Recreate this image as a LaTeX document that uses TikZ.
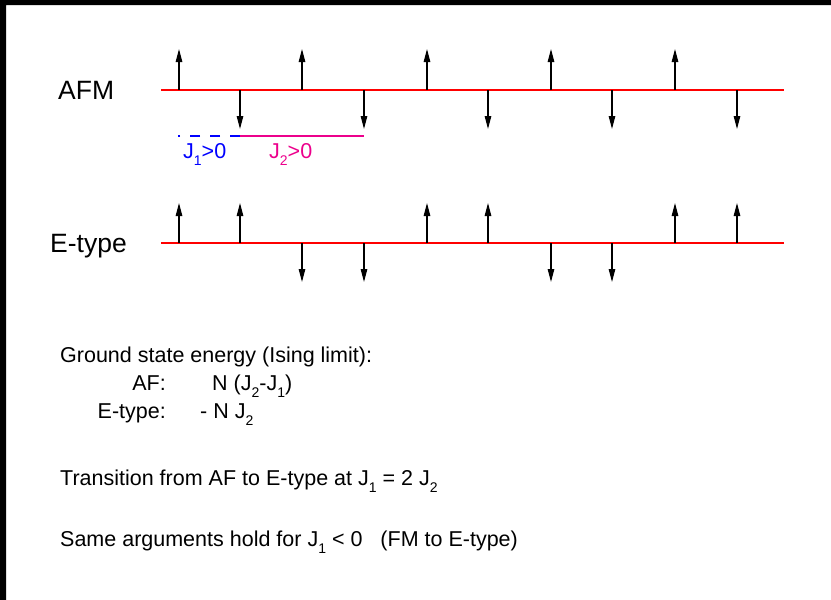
\documentclass[tikz,border=0pt]{standalone}
\usepackage{fontspec}
\setmainfont{Liberation Sans}
\usetikzlibrary{arrows.meta}
\newcommand\lowsub[1]{\raisebox{-.36em}{\fontsize{14}{14}\selectfont #1}}
\tikzset{spin/.style={line width=1.2pt,-{Triangle[length=13pt,width=6.5pt]}},
  chainline/.style={red,line width=1.5pt},
  bond/.style={line width=2.5pt},
  txt/.style={inner sep=0pt,anchor=base west}}
\begin{document}
\begin{tikzpicture}[x=1pt,y=-1pt,font=\fontsize{21.5}{26}\selectfont]
\useasboundingbox (0,0) rectangle (831,600);
\fill (0,0) rectangle (831,5) (0,0) rectangle (6,600);
% the two chains
\coordinate (aL) at (161,90); \coordinate (aR) at (784,90);
\coordinate (eL) at (161,243); \coordinate (eR) at (784,243);
\draw[chainline] (aL)--(aR); \draw[chainline] (eL)--(eR);
\node[txt,font=\fontsize{26.5}{30}\selectfont] (afm) at (58,99.5) {AFM};
\node[txt,font=\fontsize{26.5}{30}\selectfont] (etype) at (50,252) {E-type};
% spins: x / tip on AFM chain / tip on E-type chain
\foreach \x/\ya/\ye[count=\i] in {179/49/203,240/129/203,302/49/282,364/129/282,427/49/203,488/129/203,551/49/282,612/129/282,675/49/203,737/129/203}{
  \coordinate (a\i) at (\x,90); \coordinate (ta\i) at (\x,\ya);
  \coordinate (e\i) at (\x,243); \coordinate (te\i) at (\x,\ye);
  \draw[spin] (a\i)--(ta\i); \draw[spin] (e\i)--(te\i);
}
% exchange paths
\coordinate (b0) at (178,136); \coordinate (b1) at (240,136); \coordinate (b2) at (364,136);
\draw[bond,blue,dash pattern=on 10pt off 10pt] (b1)--(b0);
\draw[bond,magenta] (b1)--(b2);
\node[txt,blue] (j1) at (183,158) {J\lowsub{1}>0};
\node[txt,magenta] (j2) at (269,158) {J\lowsub{2}>0};
% energies
\node[txt] (gs) at (60,362) {Ground state energy (Ising limit):};
\node[txt,anchor=base east] (af) at (166,390) {AF:};
\node[txt] (eaf) at (212,390) {N (J\lowsub{2}-J\lowsub{1})};
\node[txt,anchor=base east] (et) at (166,418) {E-type:};
\node[txt] (eet) at (200,418) {- N J\lowsub{2}};
\node[txt] (tr) at (60,485) {Transition from AF to E-type at J\lowsub{1} = 2 J\lowsub{2}};
\node[txt] (fm) at (60,546) {Same arguments hold for J\lowsub{1} < 0\ \ \ (FM to E-type)};
\end{tikzpicture}
\end{document}
